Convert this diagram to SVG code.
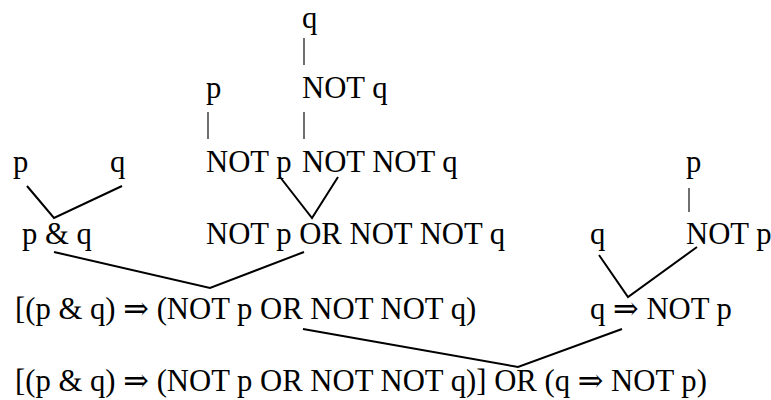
<svg xmlns="http://www.w3.org/2000/svg" width="771" height="400" viewBox="0 0 771 400">
<style>
text{font-family:"Liberation Serif","Times New Roman","DejaVu Serif",serif;font-size:30.7px;fill:#000}
.a{font-family:"DejaVu Serif","DejaVu Sans",serif}
.e{stroke:#000;stroke-width:2;fill:none;stroke-linecap:butt}
.v{stroke:#222;stroke-width:1.3;fill:none}
</style>
<rect width="771" height="400" fill="#fff"/>
<g id="connectors">
<line class="v" x1="304" y1="38" x2="304" y2="65"/>
<line class="v" x1="208" y1="112" x2="208" y2="139"/>
<line class="v" x1="304" y1="112" x2="304" y2="139"/>
<line class="v" x1="689" y1="188" x2="689" y2="212"/>
<polyline class="e" points="27,186 54,218 122,186"/>
<polyline class="e" points="280,177 312,218 338,177"/>
<polyline class="e" points="599,255 628,297 697,247"/>
<polyline class="e" points="54,252 210,288 304,252"/>
<polyline class="e" points="303,329 518,367 622,329"/>
</g>
<g id="n_q_top"><text x="302" y="28">q</text></g>
<g id="n_p_mid"><text x="206" y="98">p</text></g>
<g id="n_notq"><text x="302" y="98">NOT q</text></g>
<g id="n_p_left"><text x="13" y="172">p</text></g>
<g id="n_q_left"><text x="110" y="172">q</text></g>
<g id="n_notp"><text x="206" y="172">NOT p</text></g>
<g id="n_notnotq"><text x="302" y="172">NOT NOT q</text></g>
<g id="n_p_right"><text x="686" y="172">p</text></g>
<g id="n_pandq"><text x="22" y="244">p &amp; q</text></g>
<g id="n_or"><text x="206" y="244">NOT p OR NOT NOT q</text></g>
<g id="n_q_right"><text x="590" y="244">q</text></g>
<g id="n_notp_right"><text x="686" y="244">NOT p</text></g>
<g id="n_impl1"><text x="15" y="319">[(p &amp; q) <tspan class="a">⇒</tspan> (NOT p OR NOT NOT q)</text></g>
<g id="n_impl2"><text x="590" y="319">q <tspan class="a">⇒</tspan> NOT p</text></g>
<g id="n_root"><text x="15" y="391">[(p &amp; q) <tspan class="a">⇒</tspan> (NOT p OR NOT NOT q)] OR (q <tspan class="a">⇒</tspan> NOT p)</text></g>
</svg>
